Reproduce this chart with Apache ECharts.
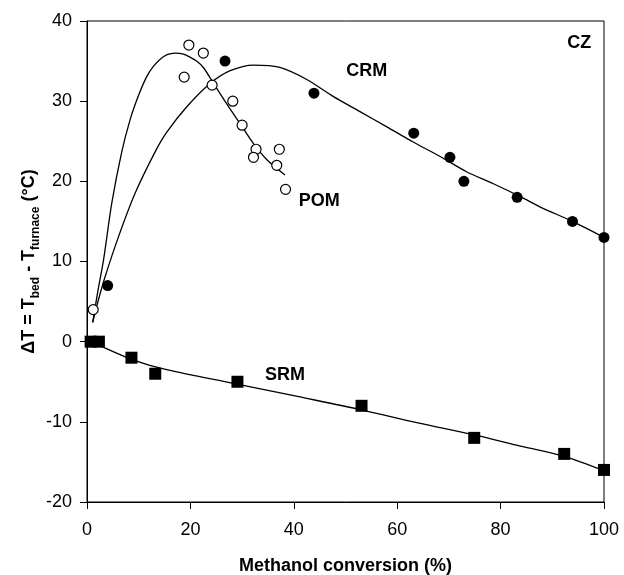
<!DOCTYPE html>
<html>
<head>
<meta charset="utf-8">
<script src="https://cdn.jsdelivr.net/npm/echarts@6/dist/echarts.min.js"></script>
<style>html,body{margin:0;padding:0;background:#fff;}#c{width:624px;height:575px;}</style>
</head>
<body>
<div id="c"></div>
<script>
// Measured points
var pomPoints = [[1.2,4],[18.8,33],[19.7,37],[22.5,36],[24.2,32],[28.2,30],[30.0,27],[32.7,24],[32.2,23],[37.2,24],[36.7,22],[38.4,19]];
var crmPoints = [[4.0,7],[26.7,35],[43.9,31],[63.2,26],[70.2,23],[72.9,20],[83.2,18],[93.9,15],[100,13]];
var srmPoints = [[0.7,0],[2.3,0],[8.6,-2],[13.2,-4],[29.1,-5],[53.1,-8],[74.9,-12],[92.3,-14],[100,-16]];
// Fitted curves
var pomFit = [[1.1,2.4],[2.1,6.3],[3.2,10.2],[4.8,17.3],[6.7,23.6],[8.3,27.6],[9.9,30.6],[11.5,33.0],[12.8,34.3],[14.1,35.2],[15.5,35.8],[17.0,36.0],[18.5,35.9],[19.9,35.5],[21.2,35.0],[22.5,34.2],[24.4,32.3],[27.0,29.7],[29.6,27.2],[32.2,24.7],[34.8,22.7],[38.3,20.8]];
var crmFit = [[1.1,2.4],[2.2,5.2],[3.5,8.1],[6.1,13.1],[9.3,18.5],[13.2,23.7],[15.4,26.1],[19.3,29.3],[23.8,32.2],[27.7,33.8],[32.2,34.5],[37.3,34.2],[42.5,32.7],[47.6,30.6],[52.8,28.7],[58.0,26.8],[63.1,24.9],[68.3,23.1],[73.4,21.2],[78.6,19.7],[83.8,18.1],[88.0,16.7],[93.9,15.0],[100,13.0]];
var srmFit = [[1.0,0],[2.5,-0.5],[9.0,-2.3],[15.4,-3.5],[28.3,-5.2],[41.2,-6.9],[53.1,-8.5],[63.8,-10.1],[74.7,-11.6],[83.1,-12.9],[92.3,-14.3],[100,-16.1]];
// Annotations [x, y, text]
var annotations = [[95.2,37.2,'CZ'],[54.1,33.7,'CRM'],[44.9,17.5,'POM'],[38.3,-4.2,'SRM']];
var xTicks = {min:0, max:100, interval:20};
var yTicks = {min:-20, max:40, interval:10};

var FONT = 'Liberation Sans, Arial, Helvetica, sans-serif';
var chart = echarts.init(document.getElementById('c'), null, {renderer:'canvas'});

function fitSeries(d){
  return {type:'line', data:d, showSymbol:false, symbol:'none', smooth:0.3,
    lineStyle:{color:'#000', width:1.3, opacity:1}, z:2, silent:true};
}

var option = {
  backgroundColor:'#fff',
  animation:false,
  grid:{left:87, right:20, top:21, bottom:73, outerBoundsMode:'none', containLabel:false,
    show:true, borderColor:'#000', borderWidth:1, backgroundColor:'transparent'},
  xAxis:{type:'value', min:xTicks.min, max:xTicks.max, interval:xTicks.interval,
    name:'Methanol conversion (%)', nameLocation:'middle', nameGap:55, nameMoveOverlap:false,
    nameTextStyle:{fontFamily:FONT, fontWeight:'bold', fontSize:18, color:'#000'},
    axisLine:{onZero:false, lineStyle:{color:'#000', width:1}},
    axisTick:{inside:false, length:7, lineStyle:{color:'#000'}},
    axisLabel:{margin:19, fontFamily:FONT, fontSize:18, color:'#000'},
    splitLine:{show:false}},
  yAxis:{type:'value', min:yTicks.min, max:yTicks.max, interval:yTicks.interval,
    name:'{b|ΔT = T}{s|bed}{b| - T}{s|furnace}{b| (°C)}', nameLocation:'middle', nameGap:45, nameRotate:90,
    nameMoveOverlap:false,
    nameTextStyle:{rich:{
      b:{fontFamily:FONT, fontWeight:'bold', fontSize:18, color:'#000', lineHeight:26, verticalAlign:'middle'},
      s:{fontFamily:FONT, fontWeight:'bold', fontSize:12, color:'#000', lineHeight:12, verticalAlign:'bottom'}
    }},
    axisLine:{onZero:false, lineStyle:{color:'#000', width:1}},
    axisTick:{inside:false, length:7, lineStyle:{color:'#000'}},
    axisLabel:{margin:15, fontFamily:FONT, fontSize:18, color:'#000'},
    splitLine:{show:false}},
  series:[
    fitSeries(pomFit), fitSeries(crmFit), fitSeries(srmFit),
    {type:'scatter', data:pomPoints, symbol:'circle', symbolSize:10,
      itemStyle:{color:'#fff', borderColor:'#000', borderWidth:1.2, opacity:1}, z:3},
    {type:'scatter', data:crmPoints, symbol:'circle', symbolSize:11,
      itemStyle:{color:'#000', borderColor:'#000', borderWidth:0, opacity:1}, z:3},
    {type:'scatter', data:srmPoints, symbol:'rect', symbolSize:12,
      itemStyle:{color:'#000', opacity:1}, z:3},
    {type:'scatter', data:annotations, symbolSize:0, silent:true, z:4,
      itemStyle:{opacity:1},
      label:{show:true, position:'inside', formatter:function(p){return p.data[2];},
        fontFamily:FONT, fontWeight:'bold', fontSize:18, color:'#000', opacity:1}}
  ]
};
chart.setOption(option);
</script>
</body>
</html>
